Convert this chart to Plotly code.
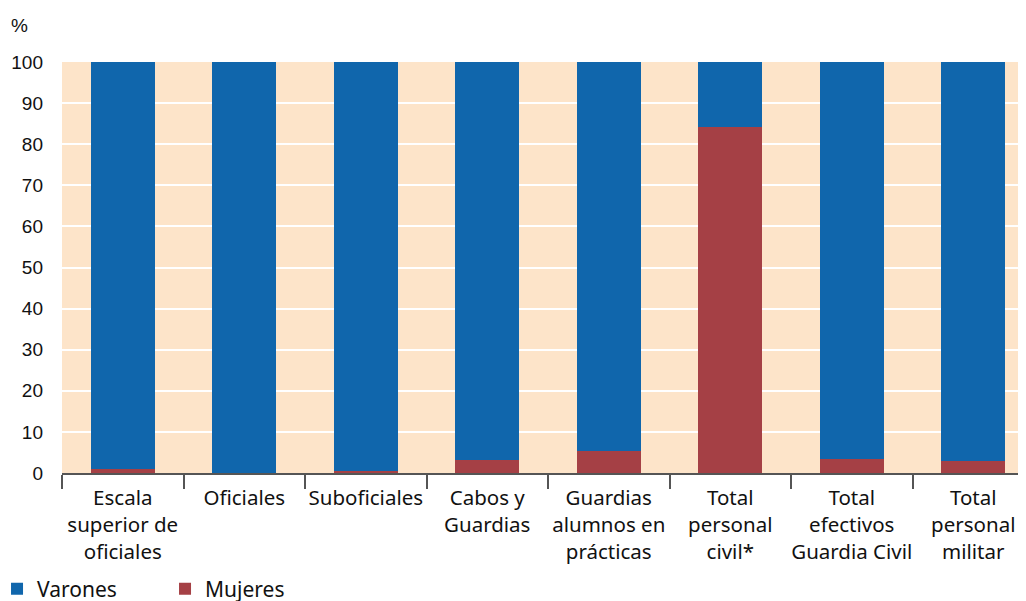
import plotly.graph_objects as go

categories = [
    "Escala<br>superior de<br>oficiales",
    "Oficiales",
    "Suboficiales",
    "Cabos y<br>Guardias",
    "Guardias<br>alumnos en<br>prácticas",
    "Total<br>personal<br>civil*",
    "Total<br>efectivos<br>Guardia Civil",
    "Total<br>personal<br>militar",
]
mujeres = [1.0, 0.1, 0.4, 3.2, 5.3, 84.2, 3.4, 3.0]
varones = [round(100 - m, 1) for m in mujeres]
y_ticks = [0, 10, 20, 30, 40, 50, 60, 70, 80, 90, 100]

BLUE = "#1066ac"
RED = "#a54045"
PEACH = "#fde4c9"
FONT = "Noto Sans, Liberation Sans, Arial, sans-serif"
NUMFONT = "Liberation Sans, Arial, sans-serif"

fig = go.Figure()
fig.add_trace(go.Bar(x=categories, y=mujeres, name="Mujeres",
                     marker=dict(color=RED, line=dict(width=0)), width=0.53,
                     legendrank=2))
fig.add_trace(go.Bar(x=categories, y=varones, name="Varones",
                     marker=dict(color=BLUE, line=dict(width=0)), width=0.53,
                     legendrank=1))

fig.update_layout(
    barmode="stack",
    width=1026, height=601,
    margin=dict(l=54, r=8, t=54, b=136, autoexpand=False),
    plot_bgcolor=PEACH,
    paper_bgcolor="white",
    font=dict(family=FONT, size=20, color="#111111"),
    showlegend=True,
    legend=dict(orientation="h", xref="paper", yref="paper",
                x=-0.0674, xanchor="left", y=-0.2823, yanchor="middle",
                font=dict(size=21), itemwidth=30, traceorder="normal",
                entrywidth=123, entrywidthmode="pixels"),
    xaxis=dict(
        type="category",
        range=[-0.5, 7.434],
        tickson="boundaries",
        tickangle=0,
        ticks="outside", ticklen=14, tickcolor="#555", tickwidth=1.5,
        showline=True, linecolor="#555", linewidth=1.5,
        showgrid=False, zeroline=False,
        tickfont=dict(size=20.5, family=FONT),
        ticklabelstandoff=6,
        automargin=False,
    ),
    yaxis=dict(
        range=[0, 100],
        tickvals=y_ticks,
        showgrid=True, gridcolor="white", gridwidth=2,
        zeroline=False, showline=False,
        ticks="", ticklabelstandoff=18,
        tickfont=dict(size=19, family=NUMFONT),
        automargin=False,
    ),
    annotations=[dict(text="%", xref="paper", yref="paper", x=-0.0436, y=1.09,
                      xanchor="center", yanchor="middle", showarrow=False,
                      font=dict(size=19, family=NUMFONT))],
)

fig.write_html("out.html")
